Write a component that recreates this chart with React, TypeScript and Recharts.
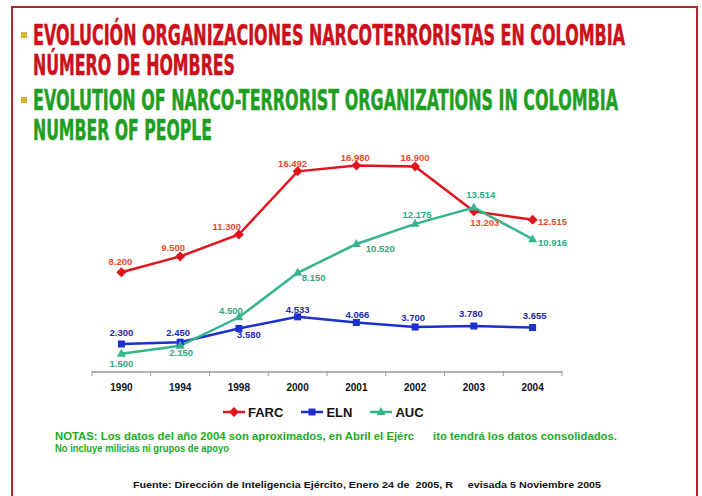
import React from "react";
import { LineChart, Line, XAxis, YAxis, Legend, LabelList } from "recharts";

// datos
const years = ["1990", "1994", "1998", "2000", "2001", "2002", "2003", "2004"];
const farc = [8200, 9500, 11300, 16492, 16980, 16900, 13203, 12515];
const eln = [2300, 2450, 3580, 4533, 4066, 3700, 3780, 3655];
const auc = [1500, 2150, 4500, 8150, 10520, 12175, 13514, 10916];

const data = years.map((year, i) => ({
  year,
  FARC: farc[i],
  ELN: eln[i],
  AUC: auc[i],
}));

// desplazamiento de cada etiqueta respecto a su punto (dx, dy)
const labelOffsets: Record<string, [number, number][]> = {
  FARC: [[-1, -11], [-7, -9], [-12, -8], [-5, -8], [-1, -8], [0, -9], [11, 11], [20, 2]],
  ELN: [[0, -11], [-2, -10], [10, 6], [0, -7], [1, -8], [-2, -9], [-3, -12], [2, -12]],
  AUC: [[0, 10], [1, 7], [-8, -7], [16, 5], [24, 5], [2, -9], [7, -13], [20, 3]],
};

const series = [
  { key: "FARC", color: "#e0141e", labelColor: "#ec4a2a", shape: "diamond" },
  { key: "ELN", color: "#1c2fd0", labelColor: "#1e2aa8", shape: "square" },
  { key: "AUC", color: "#35b58c", labelColor: "#2fa882", shape: "triangle" },
];

// títulos: texto, color, línea base y ancho
const titleLines = [
  { text: "EVOLUCIÓN ORGANIZACIONES NARCOTERRORISTAS EN COLOMBIA", color: "#cc0f1a", y: 45, w: 592 },
  { text: "NÚMERO DE HOMBRES", color: "#cc0f1a", y: 75, w: 202 },
  { text: "EVOLUTION OF NARCO-TERRORIST ORGANIZATIONS IN COLOMBIA", color: "#1f9e23", y: 110, w: 585 },
  { text: "NUMBER OF PEOPLE", color: "#1f9e23", y: 140, w: 179 },
];

const HALF_BAND = 29.4;
const TITLE_SQUEEZE = 0.66;

const fmt = (v: number) => String(v).replace(/\B(?=(\d{3})+(?!\d))/g, ".");

function Marker({ shape, cx, cy, color }: { shape: string; cx: number; cy: number; color: string }) {
  if (shape === "diamond")
    return <path d={`M${cx},${cy - 5} L${cx + 5},${cy} L${cx},${cy + 5} L${cx - 5},${cy} Z`} fill={color} />;
  if (shape === "square") return <rect x={cx - 3.5} y={cy - 3.5} width={7} height={7} fill={color} />;
  return <path d={`M${cx},${cy - 5} L${cx + 4.5},${cy + 3} L${cx - 4.5},${cy + 3} Z`} fill={color} />;
}

const YearTick = (props: any) => {
  const { x, y, payload, index } = props;
  const axisY = y - 8;
  return (
    <g>
      <line x1={x - HALF_BAND} x2={x - HALF_BAND} y1={axisY - 1} y2={axisY + 4} stroke="#999" />
      {index === years.length - 1 && (
        <line x1={x + HALF_BAND} x2={x + HALF_BAND} y1={axisY - 1} y2={axisY + 4} stroke="#999" />
      )}
      <text
        x={x}
        y={axisY + 19}
        textAnchor="middle"
        fontSize={10}
        fontWeight="bold"
        fontFamily="Liberation Sans, Arial, sans-serif"
        fill="#111"
      >
        {payload.value}
      </text>
    </g>
  );
};

const makeLabel = (key: string, color: string) => (props: any) => {
  const { x, y, value, index } = props;
  const [dx, dy] = labelOffsets[key][index];
  return (
    <text
      x={x + dx}
      y={y + dy}
      dy="0.35em"
      textAnchor="middle"
      fontSize={9.5}
      fontWeight="bold"
      fontFamily="Liberation Sans, Arial, sans-serif"
      fill={color}
    >
      {fmt(value)}
    </text>
  );
};

const LegendContent = (props: any) => {
  const names = (props.payload || []).map((e: any) => e.value);
  const items = series.filter((s) => names.includes(s.key));
  return (
    <div style={{ display: "flex", alignItems: "center", height: 16 }}>
      {items.map((s, i) => (
        <div key={s.key} style={{ display: "flex", alignItems: "center", marginRight: i < items.length - 1 ? 18 : 0 }}>
          <svg width={22} height={12} style={{ marginRight: 3 }}>
            <line x1={0} x2={22} y1={6} y2={6} stroke={s.color} strokeWidth={2.5} />
            <Marker shape={s.shape} cx={11} cy={6} color={s.color} />
          </svg>
          <span
            style={{
              fontFamily: "Liberation Sans, Arial, sans-serif",
              fontWeight: "bold",
              fontSize: 13,
              color: "#111",
            }}
          >
            {s.key}
          </span>
        </div>
      ))}
    </div>
  );
};

export default function App() {
  const titleFont = "DejaVu Sans Condensed, Liberation Sans Narrow, sans-serif";
  return (
    <div
      style={{
        position: "absolute",
        left: 0,
        top: 0,
        width: 702,
        height: 496,
        background: "#fff",
        overflow: "hidden",
      }}
    >
      <svg width={702} height={496} style={{ position: "absolute", left: 0, top: 0 }}>
        <rect x={12} y={7} width={685} height={500} fill="#fff" stroke="#b3262c" strokeWidth={2} />
        <rect x={21} y={32} width={6} height={6} fill="#d6b432" />
        <rect x={21} y={97} width={6} height={6} fill="#d6b432" />
        <g fontFamily={titleFont} fontWeight="bold" fontSize={28} strokeWidth={0.5}>
          {titleLines.map((t) => (
            <text
              key={t.text}
              transform={`translate(33,${t.y}) scale(${TITLE_SQUEEZE},1)`}
              x={0}
              y={0}
              fill={t.color}
              stroke={t.color}
              textLength={t.w / TITLE_SQUEEZE}
              lengthAdjust="spacingAndGlyphs"
            >
              {t.text}
            </text>
          ))}
        </g>
        <g fontFamily="Liberation Sans, Arial, sans-serif" fontWeight="bold" fontSize={11} fill="#22aa22">
          <text x={55} y={440} textLength={562} lengthAdjust="spacingAndGlyphs" xmlSpace="preserve">
            NOTAS: Los datos del año 2004 son aproximados, en Abril el Ejérc      ito tendrá los datos consolidados.
          </text>
          <text x={55} y={452} textLength={174} lengthAdjust="spacingAndGlyphs">
            No incluye milicias ni grupos de apoyo
          </text>
        </g>
        <text
          x={133}
          y={488}
          fontFamily="Liberation Sans, Arial, sans-serif"
          fontWeight="bold"
          fontSize={9.5}
          fill="#111"
          textLength={468}
          lengthAdjust="spacingAndGlyphs"
          xmlSpace="preserve"
        >
          Fuente: Dirección de Inteligencia Ejército, Enero 24 de  2005, R     evisada 5 Noviembre 2005
        </text>
      </svg>
      <div style={{ position: "absolute", left: 0, top: 0 }}>
        <LineChart width={702} height={496} data={data} margin={{ top: 153, right: 140, bottom: 94, left: 92 }}>
          <XAxis
            dataKey="year"
            height={30}
            padding={{ left: HALF_BAND, right: HALF_BAND }}
            axisLine={{ stroke: "#999", strokeWidth: 1.5 }}
            tickLine={false}
            tick={<YearTick />}
            interval={0}
          />
          <YAxis hide domain={[0, 18000]} />
          <Legend
            layout="horizontal"
            verticalAlign="middle"
            align="center"
            content={<LegendContent />}
            wrapperStyle={{ left: 223, top: 404, width: 260, height: 16 }}
          />
          {series.map((s) => (
            <Line
              key={s.key}
              dataKey={s.key}
              type="linear"
              stroke={s.color}
              strokeWidth={2.5}
              isAnimationActive={false}
              dot={(p: any) => <Marker key={`${s.key}-${p.index}`} shape={s.shape} cx={p.cx} cy={p.cy} color={s.color} />}
              activeDot={false}
            >
              <LabelList dataKey={s.key} content={makeLabel(s.key, s.labelColor)} />
            </Line>
          ))}
        </LineChart>
      </div>
    </div>
  );
}
